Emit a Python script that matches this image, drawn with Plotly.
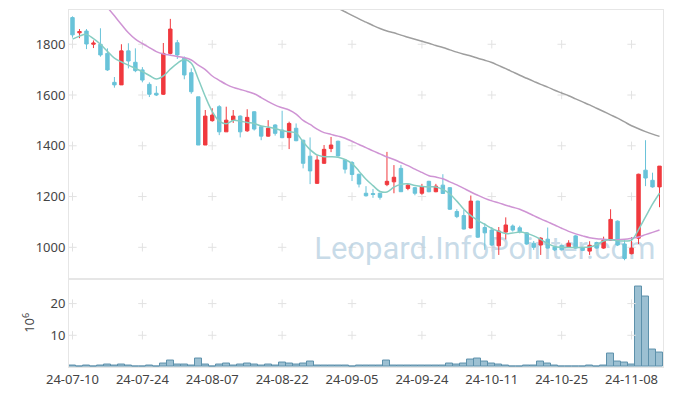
import plotly.graph_objects as go

dates = [
    "24-07-10", "24-07-11", "24-07-12", "24-07-15", "24-07-16", "24-07-17", "24-07-18", "24-07-19", "24-07-22", "24-07-23",
    "24-07-24", "24-07-25", "24-07-26", "24-07-29", "24-07-30", "24-07-31", "24-08-01", "24-08-02", "24-08-05", "24-08-06",
    "24-08-07", "24-08-08", "24-08-09", "24-08-12", "24-08-13", "24-08-14", "24-08-16", "24-08-19", "24-08-20", "24-08-21",
    "24-08-22", "24-08-23", "24-08-26", "24-08-27", "24-08-28", "24-08-29", "24-08-30", "24-09-02", "24-09-03", "24-09-04",
    "24-09-05", "24-09-06", "24-09-09", "24-09-10", "24-09-11", "24-09-12", "24-09-13", "24-09-19", "24-09-20", "24-09-23",
    "24-09-24", "24-09-25", "24-09-26", "24-09-27", "24-09-30", "24-10-02", "24-10-04", "24-10-07", "24-10-08", "24-10-10",
    "24-10-11", "24-10-14", "24-10-15", "24-10-16", "24-10-17", "24-10-18", "24-10-21", "24-10-22", "24-10-23", "24-10-24",
    "24-10-25", "24-10-28", "24-10-29", "24-10-30", "24-10-31", "24-11-01", "24-11-04", "24-11-05", "24-11-06", "24-11-07",
    "24-11-08", "24-11-11", "24-11-12", "24-11-13", "24-11-14",
]

open_ = [
    1905, 1845, 1852, 1800, 1800, 1764, 1650, 1640, 1774, 1729,
    1699, 1642, 1607, 1603, 1764, 1806, 1745, 1688, 1593, 1403,
    1499, 1554, 1455, 1501, 1517, 1459, 1534, 1475, 1438, 1482,
    1462, 1432, 1469, 1422, 1359, 1252, 1331, 1389, 1418, 1344,
    1334, 1288, 1213, 1212, 1213, 1247, 1258, 1311, 1232, 1235,
    1213, 1260, 1219, 1245, 1235, 1141, 1125, 1076, 1182, 1078,
    1068, 1006, 1060, 1084, 1077, 1057, 1016, 1009, 1032, 1001,
    1008, 1001, 1045, 997, 985, 1019, 997, 1028, 1103, 1013,
    975, 1036, 1304, 1264, 1238,
]
high = [
    1910, 1860, 1860, 1815, 1863, 1784, 1671, 1800, 1804, 1784,
    1710, 1650, 1635, 1805, 1900, 1817, 1752, 1705, 1593, 1541,
    1548, 1560, 1554, 1541, 1520, 1544, 1536, 1478, 1501, 1485,
    1538, 1495, 1488, 1424, 1433, 1363, 1403, 1435, 1420, 1346,
    1340, 1290, 1241, 1230, 1215, 1376, 1324, 1324, 1249, 1237,
    1250, 1262, 1250, 1288, 1237, 1150, 1147, 1204, 1184, 1095,
    1080, 1080, 1118, 1090, 1085, 1060, 1025, 1040, 1078, 1005,
    1010, 1028, 1048, 1000, 1024, 1022, 1042, 1150, 1106, 1028,
    1040, 1290, 1422, 1294, 1320,
]
low = [
    1826, 1824, 1781, 1785, 1751, 1695, 1629, 1640, 1705, 1690,
    1650, 1592, 1596, 1600, 1760, 1742, 1662, 1605, 1403, 1403,
    1495, 1442, 1455, 1490, 1433, 1455, 1460, 1422, 1436, 1440,
    1430, 1387, 1418, 1311, 1249, 1250, 1329, 1375, 1358, 1291,
    1261, 1236, 1200, 1195, 1188, 1241, 1213, 1219, 1225, 1205,
    1207, 1217, 1217, 1210, 1147, 1115, 1070, 1074, 1037, 990,
    1005, 970, 1031, 1062, 1055, 1010, 990, 970, 995, 985,
    988, 998, 995, 985, 970, 995, 994, 1025, 1005, 949,
    972, 1013, 1241, 1235, 1158,
]
close = [
    1837, 1850, 1801, 1805, 1758, 1699, 1640, 1774, 1734, 1696,
    1659, 1603, 1600, 1764, 1860, 1758, 1679, 1613, 1403, 1517,
    1521, 1455, 1501, 1517, 1455, 1512, 1466, 1438, 1469, 1449,
    1432, 1488, 1420, 1331, 1301, 1344, 1386, 1403, 1360, 1308,
    1287, 1249, 1203, 1208, 1197, 1260, 1276, 1219, 1245, 1213,
    1239, 1219, 1241, 1212, 1150, 1121, 1072, 1182, 1040, 1057,
    1009, 1064, 1088, 1068, 1061, 1013, 1000, 1036, 997, 990,
    990, 1016, 997, 988, 1008, 997, 1028, 1110, 1009, 956,
    997, 1288, 1273, 1238, 1320,
]
# volume in millions of shares
volume = [
    0.5, 0.3, 0.5, 0.3, 0.5, 0.8, 0.5, 0.8, 0.5, 0.3,
    0.3, 0.5, 0.3, 1.1, 2.1, 0.7, 0.7, 0.5, 2.6, 0.8,
    0.3, 0.8, 1.1, 0.6, 0.9, 1.1, 0.8, 0.6, 0.8, 0.6,
    1.5, 1.1, 0.9, 1.1, 1.6, 0.5, 0.5, 0.5, 0.5, 0.5,
    0.3, 0.6, 0.5, 0.5, 0.5, 2.1, 0.6, 0.6, 0.5, 0.5,
    0.5, 0.5, 0.5, 0.5, 1.1, 0.7, 1.1, 2.3, 2.6, 1.8,
    1.2, 0.8, 0.5, 0.2, 0.2, 0.5, 0.5, 1.6, 1.2, 0.5,
    0.2, 0.2, 0.2, 0.2, 0.5, 0.2, 0.5, 4.2, 1.8, 1.4,
    0.8, 25.5, 22.1, 5.5, 4.7,
]
ma_short = [
    1820, 1832, 1839, 1822, 1800, 1772, 1745, 1730, 1718, 1705,
    1692, 1677, 1663, 1675, 1702, 1725, 1740, 1725, 1663, 1594,
    1535, 1497, 1487, 1500, 1497, 1492, 1488, 1478, 1474, 1468,
    1460, 1455, 1450, 1415, 1385, 1364, 1357, 1357, 1355, 1346,
    1330, 1300, 1268, 1243, 1220, 1218, 1237, 1248, 1250, 1244,
    1240, 1238, 1238, 1228, 1210, 1182, 1150, 1125, 1106, 1090,
    1074, 1063, 1054, 1056, 1060, 1055, 1045, 1031, 1015, 1003,
    1000, 999, 999, 1000, 1001, 1010, 1025, 1030, 1026, 1025,
    1028, 1070, 1120, 1170, 1213,
]
ma_mid = [
    None, None, None, None, None, 1945, 1912, 1878, 1845, 1820,
    1803, 1787, 1771, 1762, 1757, 1752, 1747, 1738, 1718, 1700,
    1675, 1658, 1642, 1630, 1622, 1614, 1605, 1590, 1574, 1560,
    1550, 1541, 1525, 1500, 1484, 1466, 1452, 1445, 1438, 1430,
    1418, 1405, 1393, 1380, 1368, 1356, 1346, 1334, 1322, 1308,
    1295, 1282, 1277, 1270, 1258, 1246, 1232, 1218, 1205, 1193,
    1183, 1175, 1166, 1158, 1150, 1138, 1125, 1112, 1100, 1088,
    1075, 1063, 1053, 1045, 1038, 1034, 1032, 1030, 1030, 1032,
    1036, 1041, 1050, 1059, 1068,
]
ma_long = [
    None, None, None, None, None, None, None, None, None, None,
    None, None, None, None, None, None, None, None, None, None,
    None, None, None, None, None, None, None, None, None, None,
    None, None, None, None, None, None, 1975, 1958, 1942, 1928,
    1914, 1900, 1887, 1874, 1862, 1852, 1845, 1836, 1828, 1820,
    1812, 1804, 1795, 1787, 1778, 1769, 1761, 1754, 1745, 1737,
    1728, 1716, 1704, 1691, 1678, 1666, 1654, 1642, 1631, 1619,
    1608, 1597, 1585, 1573, 1561, 1548, 1535, 1522, 1509, 1494,
    1479, 1467, 1456, 1446, 1437,
]

tick_labels = ["24-07-10", "24-07-24", "24-08-07", "24-08-22", "24-09-05",
               "24-09-24", "24-10-11", "24-10-25", "24-11-08"]
price_ticks = [1000, 1200, 1400, 1600, 1800]
volume_ticks = [10, 20]
watermark = "Leopard.InfoPointer.com"

UP = "#f0393e"
DOWN = "#69c3d9"
GRIDC = "#e2e2e2"
AXC = "#e6e6e6"
FONT = "Noto Sans"

fig = go.Figure()

# background grid crosses (main)
gx = [d for d in tick_labels for _ in price_ticks]
gy = [v for _ in tick_labels for v in price_ticks]
fig.add_trace(go.Scatter(x=gx, y=gy, mode="markers", xaxis="x", yaxis="y",
                         marker=dict(symbol="cross-thin", size=6, line=dict(width=1, color=GRIDC)),
                         hoverinfo="skip", showlegend=False))
# watermark (below candles)
fig.add_trace(go.Scatter(x=[dates[59]], y=[983], mode="text", text=[watermark],
                         textposition="middle center", xaxis="x", yaxis="y",
                         textfont=dict(family="Roboto", size=31, color="rgba(172,201,220,0.66)"),
                         hoverinfo="skip", showlegend=False))

# candles on overlay axis
fig.add_trace(go.Candlestick(x=dates, open=open_, high=high, low=low, close=close,
                             xaxis="x", yaxis="y3",
                             increasing=dict(line=dict(color=UP, width=1), fillcolor=UP),
                             decreasing=dict(line=dict(color=DOWN, width=1), fillcolor=DOWN),
                             whiskerwidth=0, showlegend=False))
fig.add_trace(go.Scatter(x=dates, y=ma_long, mode="lines", xaxis="x", yaxis="y3",
                         line=dict(color="#9e9e9e", width=1.5, shape="spline"),
                         connectgaps=False, showlegend=False))
fig.add_trace(go.Scatter(x=dates, y=ma_mid, mode="lines", xaxis="x", yaxis="y3",
                         line=dict(color="#cf94d4", width=1.5, shape="spline"),
                         showlegend=False))
fig.add_trace(go.Scatter(x=dates, y=ma_short, mode="lines", xaxis="x", yaxis="y3",
                         line=dict(color="#86cdc2", width=1.5, shape="spline"),
                         showlegend=False))

# volume
fig.add_trace(go.Bar(x=dates, y=volume, xaxis="x", yaxis="y2",
                     marker=dict(color="#9cc0d2", line=dict(color="#5d91ab", width=1)),
                     showlegend=False))
vx = [d for d in tick_labels for _ in volume_ticks]
vy = [v for _ in tick_labels for v in volume_ticks]
fig.add_trace(go.Scatter(x=vx, y=vy, mode="markers", xaxis="x", yaxis="y2",
                         marker=dict(symbol="cross-thin", size=6, line=dict(width=1, color=GRIDC)),
                         hoverinfo="skip", showlegend=False))

split = 0.2478
prange = [877, 1935]
fig.update_layout(
    width=673, height=396,
    margin=dict(l=69, r=10, t=10, b=29, autoexpand=False),
    paper_bgcolor="white", plot_bgcolor="white",
    font=dict(family=FONT, size=13, color="#444"),
    bargap=0,
    showlegend=False,
    xaxis=dict(type="category", categoryorder="array", categoryarray=dates,
               range=[-0.5, len(dates) - 0.5], anchor="y2", automargin=False,
               tickmode="array", tickvals=tick_labels, ticktext=tick_labels,
               showgrid=False, zeroline=False, showline=True, linecolor=AXC, mirror="all",
               ticks="", rangeslider=dict(visible=False), tickfont=dict(size=13, color="#444")),
    yaxis=dict(domain=[split, 1], range=prange, tickvals=price_ticks, automargin=False,
               showgrid=False, zeroline=False, showline=True, linecolor=AXC, mirror=True,
               ticks="", fixedrange=True),
    yaxis3=dict(overlaying="y", range=prange, visible=False, showgrid=False, zeroline=False,
                automargin=False),
    yaxis2=dict(domain=[0, split], range=[0, 27.9], tickvals=volume_ticks, automargin=False,
                showgrid=False, zeroline=False, showline=True, linecolor=AXC, mirror=True,
                ticks="", title=dict(text="10<sup>6</sup>", standoff=12, font=dict(size=13))),
)

fig.write_html("out.html", config={"displayModeBar": False},
               post_script="document.body.style.margin='0';document.body.style.overflow='hidden';")
